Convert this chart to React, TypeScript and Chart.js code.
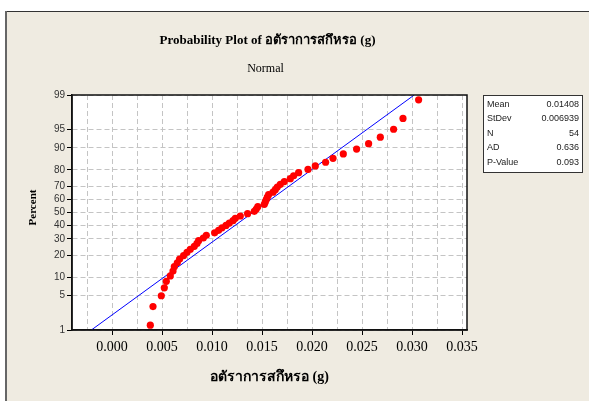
import React, { useEffect, useRef } from 'react';
import { Chart, registerables } from 'chart.js';

Chart.register(...registerables);

// ---- data ----
const wearRate = [
  0.00383, 0.0041, 0.00493, 0.00523, 0.00543, 0.00583, 0.0061, 0.00623, 0.00653, 0.00676,
  0.00716, 0.0075, 0.00783, 0.00823, 0.0085, 0.00866, 0.00913, 0.00943, 0.01026, 0.01066,
  0.011, 0.0114, 0.01173, 0.0121, 0.01233, 0.01283, 0.01356, 0.01423, 0.01443, 0.01458,
  0.01523, 0.01533, 0.01543, 0.01553, 0.01566, 0.0161, 0.01633, 0.01653, 0.01683, 0.01723,
  0.01783, 0.01816, 0.01866, 0.0196, 0.02033, 0.02136, 0.0221, 0.02313, 0.02446, 0.02566,
  0.02683, 0.02816, 0.0291, 0.03066,
];
const percentTicks = [1, 5, 10, 20, 30, 40, 50, 60, 70, 80, 90, 95, 99];
const xGridValues = [-0.0025, 0, 0.0025, 0.005, 0.0075, 0.01, 0.0125, 0.015, 0.0175, 0.02, 0.0225, 0.025, 0.0275, 0.03, 0.0325, 0.035];
const xTickValues = [0, 0.005, 0.01, 0.015, 0.02, 0.025, 0.03, 0.035];
const xTickLabels = ['0.000', '0.005', '0.010', '0.015', '0.020', '0.025', '0.030', '0.035'];
const statLabels = ['Mean', 'StDev', 'N', 'AD', 'P-Value'];
const statValues = ['0.01408', '0.006939', '54', '0.636', '0.093'];
const fitMean = 0.01408;
const fitStDev = 0.006939;
const xMin = -0.004;
const xMax = 0.0355;

const titleText = 'Probability Plot of อตัราการสกึหรอ (g)';
const subtitleText = 'Normal';
const xTitle = 'อตัราการสกึหรอ (g)';
const yTitle = 'Percent';

function invNorm(p: number): number {
  const a = [-3.969683028665376e1, 2.209460984245205e2, -2.759285104469687e2, 1.38357751867269e2, -3.066479806614716e1, 2.506628277459239];
  const b = [-5.447609879822406e1, 1.615858368580409e2, -1.556989798598866e2, 6.680131188771972e1, -1.328068155288572e1];
  const c = [-7.784894002430293e-3, -3.223964580411365e-1, -2.400758277161838, -2.549732539343734, 4.374664141464968, 2.938163982698783];
  const d = [7.784695709041462e-3, 3.224671290700398e-1, 2.445134137142996, 3.754408661907416];
  const pl = 0.02425;
  const ph = 1 - pl;
  let q: number, r: number;
  if (p < pl) {
    q = Math.sqrt(-2 * Math.log(p));
    return (((((c[0] * q + c[1]) * q + c[2]) * q + c[3]) * q + c[4]) * q + c[5]) / ((((d[0] * q + d[1]) * q + d[2]) * q + d[3]) * q + 1);
  }
  if (p <= ph) {
    q = p - 0.5;
    r = q * q;
    return ((((((a[0] * r + a[1]) * r + a[2]) * r + a[3]) * r + a[4]) * r + a[5]) * q) / (((((b[0] * r + b[1]) * r + b[2]) * r + b[3]) * r + b[4]) * r + 1);
  }
  q = Math.sqrt(-2 * Math.log(1 - p));
  return -(((((c[0] * q + c[1]) * q + c[2]) * q + c[3]) * q + c[4]) * q + c[5]) / ((((d[0] * q + d[1]) * q + d[2]) * q + d[3]) * q + 1);
}

const BEIGE = '#efebe1';

const decorPlugin = {
  id: 'decor',
  beforeDraw(chart: any) {
    const { ctx, width, height, chartArea } = chart;
    ctx.save();
    ctx.fillStyle = '#ffffff';
    ctx.fillRect(0, 0, width, height);
    ctx.fillStyle = BEIGE;
    ctx.fillRect(6, 11, width - 6, height - 11);
    ctx.strokeStyle = '#333333';
    ctx.lineWidth = 1;
    ctx.beginPath();
    ctx.moveTo(5, 11.5);
    ctx.lineTo(width, 11.5);
    ctx.stroke();
    ctx.strokeStyle = '#666666';
    ctx.lineWidth = 2;
    ctx.beginPath();
    ctx.moveTo(6, 11);
    ctx.lineTo(6, height);
    ctx.stroke();
    ctx.fillStyle = '#ffffff';
    ctx.fillRect(chartArea.left, chartArea.top, chartArea.right - chartArea.left, chartArea.bottom - chartArea.top);
    ctx.restore();
  },
  afterDraw(chart: any) {
    const { ctx, chartArea } = chart;
    ctx.save();
    // plot frame
    ctx.strokeStyle = '#111111';
    ctx.lineWidth = 1.5;
    ctx.strokeRect(chartArea.left, chartArea.top, chartArea.right - chartArea.left, chartArea.bottom - chartArea.top);

    const cx = (chartArea.left + chartArea.right) / 2;
    ctx.fillStyle = '#000000';
    ctx.textAlign = 'center';
    ctx.textBaseline = 'middle';
    ctx.font = "bold 13px 'Liberation Serif', serif";
    ctx.fillText(titleText, cx - 2, 41);
    ctx.font = "12px 'Liberation Serif', serif";
    ctx.fillText(subtitleText, cx - 4, 69);
    ctx.font = "bold 14px 'Liberation Serif', serif";
    ctx.fillText(xTitle, cx, 377);

    ctx.save();
    ctx.translate(33, (chartArea.top + chartArea.bottom) / 2 - 5);
    ctx.rotate(-Math.PI / 2);
    ctx.font = "bold 11px 'Liberation Serif', serif";
    ctx.fillText(yTitle, 0, 0);
    ctx.restore();

    // stats box
    const bx = 483, by = 95.5, bw = 99, bh = 77;
    ctx.fillStyle = '#ffffff';
    ctx.fillRect(bx, by, bw, bh);
    ctx.strokeStyle = '#333333';
    ctx.lineWidth = 1;
    ctx.strokeRect(bx + 0.5, by, bw, bh);
    ctx.fillStyle = '#222222';
    ctx.font = "9px 'Liberation Sans', sans-serif";
    statLabels.forEach((lab, i) => {
      const y = 104.5 + i * 14.5;
      ctx.textAlign = 'left';
      ctx.fillText(lab, 487, y);
      ctx.textAlign = 'right';
      ctx.fillText(statValues[i], 579, y);
    });
    ctx.restore();
  },
};

export default function App() {
  const ref = useRef<HTMLCanvasElement | null>(null);

  useEffect(() => {
    if (!ref.current) return;
    const n = wearRate.length;
    const zMin = invNorm(percentTicks[0] / 100);
    const zMax = invNorm(percentTicks[percentTicks.length - 1] / 100);
    const points = wearRate.map((v, i) => ({ x: v, y: invNorm((i + 1 - 0.3) / (n + 0.4)) }));
    const fit = [
      { x: fitMean + zMin * fitStDev, y: zMin },
      { x: fitMean + zMax * fitStDev, y: zMax },
    ];
    const isMajorX = (v: number) => xTickValues.some((t) => Math.abs(t - v) < 1e-9);

    const chart = new Chart(ref.current, {
      type: 'scatter',
      data: {
        datasets: [
          {
            data: points,
            backgroundColor: '#ff0000',
            borderColor: '#ff0000',
            borderWidth: 0,
            pointRadius: 3.6,
            showLine: false,
          },
          {
            data: fit,
            borderColor: '#0000ff',
            backgroundColor: '#0000ff',
            borderWidth: 1,
            pointRadius: 0,
            showLine: true,
          },
        ],
      },
      options: {
        animation: false,
        responsive: false,
        events: [],
        layout: { padding: { left: 0, top: 95, right: 122, bottom: 0 } },
        plugins: { legend: { display: false }, tooltip: { enabled: false }, title: { display: false } },
        scales: {
          x: {
            type: 'linear',
            min: xMin,
            max: xMax,
            afterBuildTicks: (s: any) => {
              s.ticks = xGridValues.map((v) => ({ value: v }));
            },
            afterFit: (s: any) => {
              s.height = 71;
            },
            ticks: {
              autoSkip: false,
              maxRotation: 0,
              padding: 4,
              color: '#000000',
              font: { family: "'Liberation Serif', serif", size: 14 },
              callback: (v: any) => {
                const idx = xTickValues.findIndex((t) => Math.abs(t - Number(v)) < 1e-9);
                return idx >= 0 ? xTickLabels[idx] : '';
              },
            },
            grid: {
              color: '#c4c4c4',
              lineWidth: 1,
              tickLength: 5,
              tickColor: (c: any) => (c.tick && isMajorX(c.tick.value) ? '#000000' : 'rgba(0,0,0,0)'),
            },
            border: { color: '#111111', width: 1.5, dash: [5, 3] },
          },
          y: {
            type: 'linear',
            min: zMin,
            max: zMax,
            afterBuildTicks: (s: any) => {
              s.ticks = percentTicks.map((p) => ({ value: invNorm(p / 100) }));
            },
            afterFit: (s: any) => {
              s.width = 72;
            },
            ticks: {
              autoSkip: false,
              padding: 2,
              color: '#333333',
              font: { family: "'Liberation Sans', sans-serif", size: 10 },
              callback: (_v: any, i: number) => String(percentTicks[i]),
            },
            grid: { color: '#c4c4c4', lineWidth: 1, tickLength: 5, tickColor: '#000000' },
            border: { color: '#111111', width: 1.5, dash: [5, 3] },
          },
        },
      },
      plugins: [decorPlugin],
    } as any);
    return () => chart.destroy();
  }, []);

  return (
    <div style={{ position: 'fixed', left: 0, top: 0, width: 589, height: 401 }}>
      <canvas ref={ref} width={589} height={401} style={{ display: 'block', width: 589, height: 401 }} />
    </div>
  );
}
